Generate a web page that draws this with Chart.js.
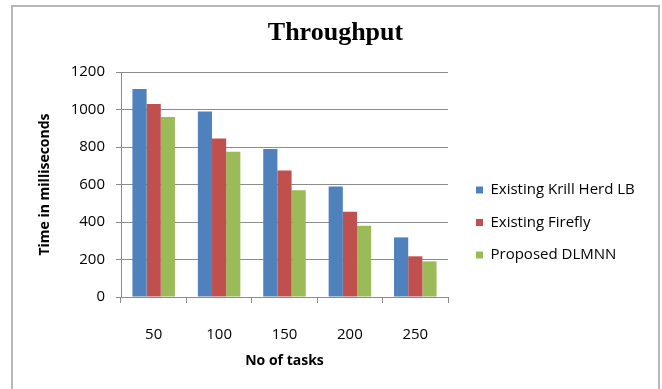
<!DOCTYPE html>
<html>
<head>
<meta charset="utf-8">
<script src="https://cdn.jsdelivr.net/npm/chart.js@4.4.1/dist/chart.umd.min.js"></script>
<style>
    body { margin: 0; background: #fff; }
    .frame {
        position: absolute;
        left: 11px;
        top: 5px;
        width: 645px;
        height: 400px;
        border: 2px solid #b7b7b7;
    }
    .frame canvas { position: absolute; left: 0; top: 0; }
</style>
</head>
<body>
<div class="frame">
    <canvas id="throughputChart" width="645" height="382"></canvas>
</div>
<script>
// Chart data
const tasks = ["50", "100", "150", "200", "250"];
const krillHerd = [1110, 990, 790, 590, 318];
const firefly = [1030, 845, 675, 455, 217];
const dlmnn = [960, 775, 570, 380, 190];
const yTicks = [0, 200, 400, 600, 800, 1000, 1200];

const gridGray = "#8c8c8c";
const legendWidth = 179.5;

Chart.defaults.color = "#000";
Chart.defaults.font.family = "'Open Sans', sans-serif";

// Chart.js caps a side legend at a fraction of the width, widen it here
const wideLegend = {
    id: "wideLegend",
    beforeLayout(chart) {
        const legend = chart.legend;
        if (!legend || legend._wide) return;
        const fit = legend.fit;
        legend.fit = function () {
            fit.call(this);
            this.width = legendWidth;
        };
        legend._wide = true;
    }
};

document.addEventListener("DOMContentLoaded", function () {
    const ctx = document.getElementById("throughputChart").getContext("2d");

    new Chart(ctx, {
        type: "bar",
        plugins: [wideLegend],
        data: {
            labels: tasks,
            datasets: [{
                label: "Existing Krill Herd LB",
                data: krillHerd,
                backgroundColor: "#4f81bd"
            },
            {
                label: "Existing Firefly",
                data: firefly,
                backgroundColor: "#c0504d"
            },
            {
                label: "Proposed DLMNN",
                data: dlmnn,
                backgroundColor: "#9bbb59"
            }]
        },
        options: {
            responsive: false,
            animation: false,
            datasets: {
                bar: { categoryPercentage: 0.65, barPercentage: 1.0 }
            },
            layout: {
                padding: { left: 20, right: 20, top: 0, bottom: 12 }
            },
            plugins: {
                title: {
                    display: true,
                    text: "Throughput",
                    color: "#000",
                    font: { family: "'Liberation Serif', serif", size: 26, weight: "bold" },
                    padding: { top: 11, bottom: 22.8 }
                },
                legend: {
                    position: "right",
                    align: "start",
                    title: { display: true, text: "", padding: { top: 143.6, bottom: 0 } },
                    labels: {
                        boxWidth: 7,
                        boxHeight: 7,
                        padding: 17.5,
                        font: { size: 15 }
                    }
                },
                tooltip: { enabled: false }
            },
            scales: {
                x: {
                    grid: { drawOnChartArea: false, tickLength: 6, color: gridGray },
                    border: { color: gridGray },
                    ticks: { padding: 23, font: { size: 15 } },
                    title: {
                        display: true,
                        text: "No of tasks",
                        font: { size: 14, weight: "bold" },
                        padding: { top: 0, bottom: 7.9 }
                    },
                    afterFit: function (scale) { scale.height = 80; }
                },
                y: {
                    min: 0,
                    max: 1200,
                    afterBuildTicks: function (scale) {
                        scale.ticks = yTicks.map(v => ({ value: v }));
                    },
                    grid: { tickLength: 5, color: gridGray },
                    border: { color: gridGray },
                    ticks: {
                        padding: 11,
                        font: { size: 15 },
                        callback: function (value) { return String(value); }
                    },
                    title: {
                        display: true,
                        text: "Time in milliseconds",
                        font: { size: 14, weight: "bold" },
                        padding: { top: 3.6, bottom: 0 }
                    },
                    afterFit: function (scale) { scale.width = 88; }
                },
                // empty axis, only keeps a gap between plot and legend
                gap: {
                    type: "linear",
                    position: "right",
                    grid: { display: false },
                    border: { display: false },
                    ticks: { display: false },
                    afterFit: function (scale) { scale.width = 10.5; }
                }
            }
        }
    });
});
</script>
</body>
</html>
